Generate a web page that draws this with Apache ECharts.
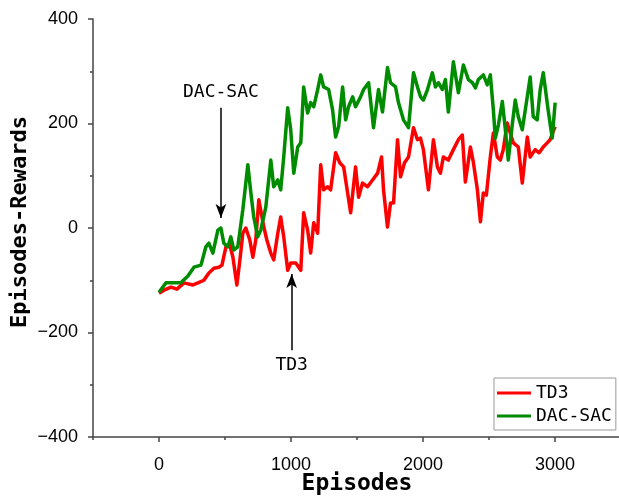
<!DOCTYPE html>
<html>
<head>
<meta charset="utf-8">
<script src="https://cdn.jsdelivr.net/npm/echarts@6/dist/echarts.min.js"></script>
<style>
  html, body { margin: 0; padding: 0; background: #fff; }
  #main { width: 619px; height: 499px; }
</style>
</head>
<body>
<div id="main"></div>
<script>
// TD3 curve
var tdEpisodes = [0, 38, 91, 136, 189, 257, 295, 340, 378, 416, 454, 477, 507, 537, 560, 590, 613, 635, 658, 688,
  711, 733, 756, 771, 794, 817, 847, 869, 900, 922, 945, 975, 998, 1036, 1074, 1096, 1126, 1149, 1172, 1202,
  1225, 1247, 1278, 1300, 1338, 1369, 1399, 1429, 1452, 1489, 1512, 1542, 1580, 1618, 1656, 1686, 1701, 1731, 1754, 1777,
  1807, 1830, 1860, 1890, 1928, 1958, 1981, 2003, 2041, 2079, 2109, 2132, 2154, 2192, 2230, 2268, 2298, 2321, 2359, 2382,
  2412, 2435, 2457, 2480, 2510, 2533, 2563, 2586, 2608, 2638, 2661, 2684, 2722, 2752, 2790, 2812, 2850, 2880, 2911, 2941,
  2963, 3001];
var tdRewards = [-125, -119, -113, -117, -105, -109, -105, -100, -86, -77, -75, -71, -36, -33, -56, -109, -61, -10, 0, -23,
  -56, -23, 54, 54, 2, -23, -48, -61, -10, 21, -17, -81, -67, -67, -81, 29, -4, -48, 10, -10,
  121, 73, 79, 73, 144, 125, 117, 67, 29, 117, 59, 86, 79, 92, 105, 136, 73, 2, 48, 48,
  169, 98, 125, 136, 192, 169, 172, 150, 73, 169, 117, 105, 136, 130, 150, 169, 178, 88, 155, 125,
  73, 12, 67, 63, 136, 182, 136, 130, 150, 201, 182, 163, 155, 86, 174, 136, 150, 144, 155, 163,
  169, 194];

// DAC-SAC curve
var dacEpisodes = [0, 53, 106, 166, 219, 265, 318, 355, 378, 408, 446, 469, 491, 522, 544, 567, 597, 635, 673, 696,
  718, 748, 771, 809, 847, 869, 900, 922, 945, 975, 998, 1021, 1051, 1074, 1096, 1126, 1149, 1172, 1202, 1225,
  1247, 1285, 1315, 1338, 1361, 1391, 1414, 1436, 1467, 1489, 1527, 1550, 1588, 1625, 1663, 1693, 1731, 1754, 1792, 1814,
  1852, 1890, 1928, 1958, 1981, 2003, 2034, 2071, 2094, 2117, 2147, 2170, 2192, 2230, 2268, 2306, 2344, 2374, 2397, 2419,
  2457, 2487, 2510, 2533, 2548, 2571, 2601, 2624, 2646, 2676, 2699, 2722, 2752, 2790, 2812, 2835, 2865, 2888, 2911, 2948,
  2979, 3001];
var dacRewards = [-123, -105, -105, -105, -92, -75, -71, -36, -29, -48, -4, 0, -29, -36, -17, -42, -36, 35, 121, 67,
  21, -17, -4, 40, 130, 79, 92, 73, 136, 230, 188, 105, 155, 163, 270, 220, 240, 232, 265, 293,
  270, 265, 226, 174, 194, 270, 207, 232, 251, 232, 251, 265, 278, 192, 265, 222, 307, 278, 270, 240,
  207, 192, 297, 270, 251, 245, 265, 297, 270, 278, 265, 284, 222, 318, 259, 312, 284, 278, 268, 284,
  293, 274, 293, 226, 172, 197, 242, 188, 130, 197, 245, 213, 188, 251, 289, 213, 207, 265, 297, 226,
  172, 240];

var xTicks = [0, 1000, 2000, 3000];
var xMinorTicks = [-500, 500, 1500, 2500, 3500];

// annotation arrows: [episode, from, to]
var dacArrow = [469, 230, 19];
var tdArrow = [1005, -234, -88];

function zip(xs, ys) {
  var out = [];
  for (var i = 0; i < xs.length; i++) out.push([xs[i], ys[i]]);
  return out;
}

var myChart = echarts.init(document.getElementById('main'));
var monoFont = 'DejaVu Sans Mono';
var axisColor = '#444';

function arrow(a, text) {
  return {
    silent: true,
    symbol: ['none', 'arrow'],
    symbolSize: [8, 14],
    lineStyle: { color: '#000', width: 1.5, type: 'solid' },
    label: {
      show: true, position: 'start', formatter: text, distance: 6,
      color: '#000', fontFamily: monoFont, fontSize: 18
    },
    emphasis: { disabled: true },
    data: [[{ coord: [a[0], a[1]] }, { coord: [a[0], a[2]] }]]
  };
}

var option = {
  animation: false,
  backgroundColor: '#fff',
  grid: { left: 93, top: 19, bottom: 62, right: -2, outerBoundsMode: 'none', containLabel: false },
  legend: {
    orient: 'vertical',
    left: 494, top: 378,
    padding: [6, 4, 5, 3],
    itemGap: 5,
    icon: 'rect',
    itemWidth: 34, itemHeight: 3,
    borderColor: '#999', borderWidth: 1,
    textStyle: { fontFamily: monoFont, fontSize: 18, color: '#000' },
    data: ['TD3', 'DAC-SAC']
  },
  xAxis: [{
    type: 'value', min: -500, max: 3500,
    name: 'Episodes', nameLocation: 'middle', nameGap: 36, nameMoveOverlap: false,
    nameTextStyle: { fontFamily: monoFont, fontSize: 23, fontWeight: 'bold', color: '#000' },
    splitLine: { show: false },
    axisLine: { show: true, onZero: false, lineStyle: { color: axisColor, width: 1.5 } },
    axisTick: { show: true, inside: false, length: 5, customValues: xTicks, lineStyle: { color: axisColor, width: 1.5 } },
    axisLabel: {
      customValues: xTicks, margin: 19, fontFamily: 'Liberation Sans', fontSize: 18, color: '#000',
      formatter: function (v) { return String(v); }
    }
  }, {
    type: 'value', min: -500, max: 3500, position: 'bottom',
    splitLine: { show: false },
    axisLine: { show: false, onZero: false },
    axisTick: { show: true, inside: false, length: 3, customValues: xMinorTicks, lineStyle: { color: axisColor, width: 1.5 } },
    axisLabel: { show: false }
  }],
  yAxis: {
    type: 'value', min: -400, max: 400, interval: 200,
    name: 'Episodes-Rewards', nameLocation: 'middle', nameGap: 62, nameMoveOverlap: false,
    nameTextStyle: { fontFamily: monoFont, fontSize: 22, fontWeight: 'bold', color: '#000', padding: [0, 0, 0, 12] },
    splitLine: { show: false },
    axisLine: { show: true, onZero: false, lineStyle: { color: axisColor, width: 1.5 } },
    axisTick: { show: true, inside: false, length: 5, lineStyle: { color: axisColor, width: 1.5 } },
    minorTick: { show: true, splitNumber: 2, length: 3, lineStyle: { color: axisColor, width: 1.5 } },
    axisLabel: {
      margin: 15, fontFamily: 'Liberation Sans', fontSize: 18, color: '#000',
      formatter: function (v) { return String(v).replace('-', '\u2212'); }
    }
  },
  series: [{
    name: 'TD3', type: 'line', symbol: 'none', smooth: false,
    color: '#ff0000',
    lineStyle: { width: 3.5, color: '#ff0000', join: 'round' },
    data: zip(tdEpisodes, tdRewards),
    markLine: arrow(tdArrow, 'TD3')
  }, {
    name: 'DAC-SAC', type: 'line', symbol: 'none', smooth: false,
    color: '#008c00',
    lineStyle: { width: 3.5, color: '#008c00', join: 'round' },
    data: zip(dacEpisodes, dacRewards),
    markLine: arrow(dacArrow, 'DAC-SAC')
  }]
};

myChart.setOption(option);
</script>
</body>
</html>
